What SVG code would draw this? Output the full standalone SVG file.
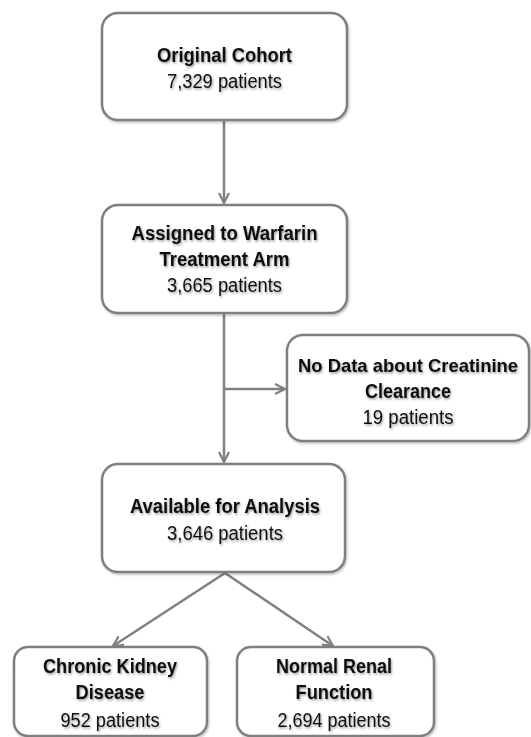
<svg xmlns="http://www.w3.org/2000/svg" width="531" height="737" viewBox="0 0 531 737">
<defs>
<filter id="ts" x="-10%" y="-30%" width="120%" height="160%">
<feDropShadow dx="1" dy="1.5" stdDeviation="1" flood-color="#000" flood-opacity="0.4"/>
</filter>
<filter id="bs" x="-5%" y="-5%" width="110%" height="115%">
<feDropShadow dx="1" dy="1.5" stdDeviation="1.2" flood-color="#000" flood-opacity="0.25"/>
</filter>
<marker id="ah" viewBox="0 0 12 12" refX="11" refY="6" markerWidth="12" markerHeight="12" markerUnits="userSpaceOnUse" orient="auto">
<path d="M1,1 L11,6 L1,11" fill="none" stroke="#808080" stroke-width="2.2"/>
</marker>
<style>
.box{fill:#fff;stroke:#7f7f7f;stroke-width:2.5;filter:url(#bs)}
.t{font-family:"Liberation Sans",Arial,sans-serif;font-size:20px;text-anchor:middle;fill:#111;filter:url(#ts)}
.b{font-weight:bold}
.s{font-size:19px}
.c{fill:none;stroke:#808080;stroke-width:2.5}
</style>
</defs>
<g id="connectors">
<line class="c" x1="224" y1="121" x2="224" y2="203" marker-end="url(#ah)"/>
<line class="c" x1="224" y1="314" x2="224" y2="462" marker-end="url(#ah)"/>
<line class="c" x1="224" y1="389" x2="285" y2="389" marker-end="url(#ah)"/>
<line class="c" x1="225" y1="573" x2="113" y2="646" marker-end="url(#ah)"/>
<line class="c" x1="225" y1="573" x2="333" y2="646" marker-end="url(#ah)"/>
</g>
<g id="original">
<rect class="box" x="102" y="13" width="245" height="107" rx="16"/>
<text class="t b" x="224.5" y="62" textLength="135" lengthAdjust="spacingAndGlyphs">Original Cohort</text>
<text class="t" x="224.5" y="88" textLength="115" lengthAdjust="spacingAndGlyphs">7,329 patients</text>
</g>
<g id="warfarin">
<rect class="box" x="102" y="205" width="245" height="108" rx="16"/>
<text class="t b" x="224.5" y="240" textLength="186" lengthAdjust="spacingAndGlyphs">Assigned to Warfarin</text>
<text class="t b" x="224.5" y="266" textLength="130" lengthAdjust="spacingAndGlyphs">Treatment Arm</text>
<text class="t" x="224.5" y="292" textLength="115" lengthAdjust="spacingAndGlyphs">3,665 patients</text>
</g>
<g id="nodata">
<rect class="box" x="287" y="335" width="242" height="106" rx="16"/>
<text class="t b s" x="408" y="372" textLength="220" lengthAdjust="spacingAndGlyphs">No Data about Creatinine</text>
<text class="t b" x="408" y="398" textLength="86" lengthAdjust="spacingAndGlyphs">Clearance</text>
<text class="t" x="408" y="424" textLength="91" lengthAdjust="spacingAndGlyphs">19 patients</text>
</g>
<g id="available">
<rect class="box" x="102" y="464" width="243" height="108" rx="16"/>
<text class="t b" x="225" y="513" textLength="190" lengthAdjust="spacingAndGlyphs">Available for Analysis</text>
<text class="t" x="225" y="540" textLength="116" lengthAdjust="spacingAndGlyphs">3,646 patients</text>
</g>
<g id="ckd">
<rect class="box" x="14" y="647" width="193" height="89" rx="14"/>
<text class="t b" x="110" y="673" textLength="134" lengthAdjust="spacingAndGlyphs">Chronic Kidney</text>
<text class="t b" x="110" y="699" textLength="69" lengthAdjust="spacingAndGlyphs">Disease</text>
<text class="t" x="110" y="727" textLength="99" lengthAdjust="spacingAndGlyphs">952 patients</text>
</g>
<g id="normal">
<rect class="box" x="237" y="647" width="197" height="89" rx="14"/>
<text class="t b" x="334" y="673" textLength="116" lengthAdjust="spacingAndGlyphs">Normal Renal</text>
<text class="t b" x="334" y="699" textLength="77" lengthAdjust="spacingAndGlyphs">Function</text>
<text class="t" x="334" y="727" textLength="113" lengthAdjust="spacingAndGlyphs">2,694 patients</text>
</g>
</svg>
